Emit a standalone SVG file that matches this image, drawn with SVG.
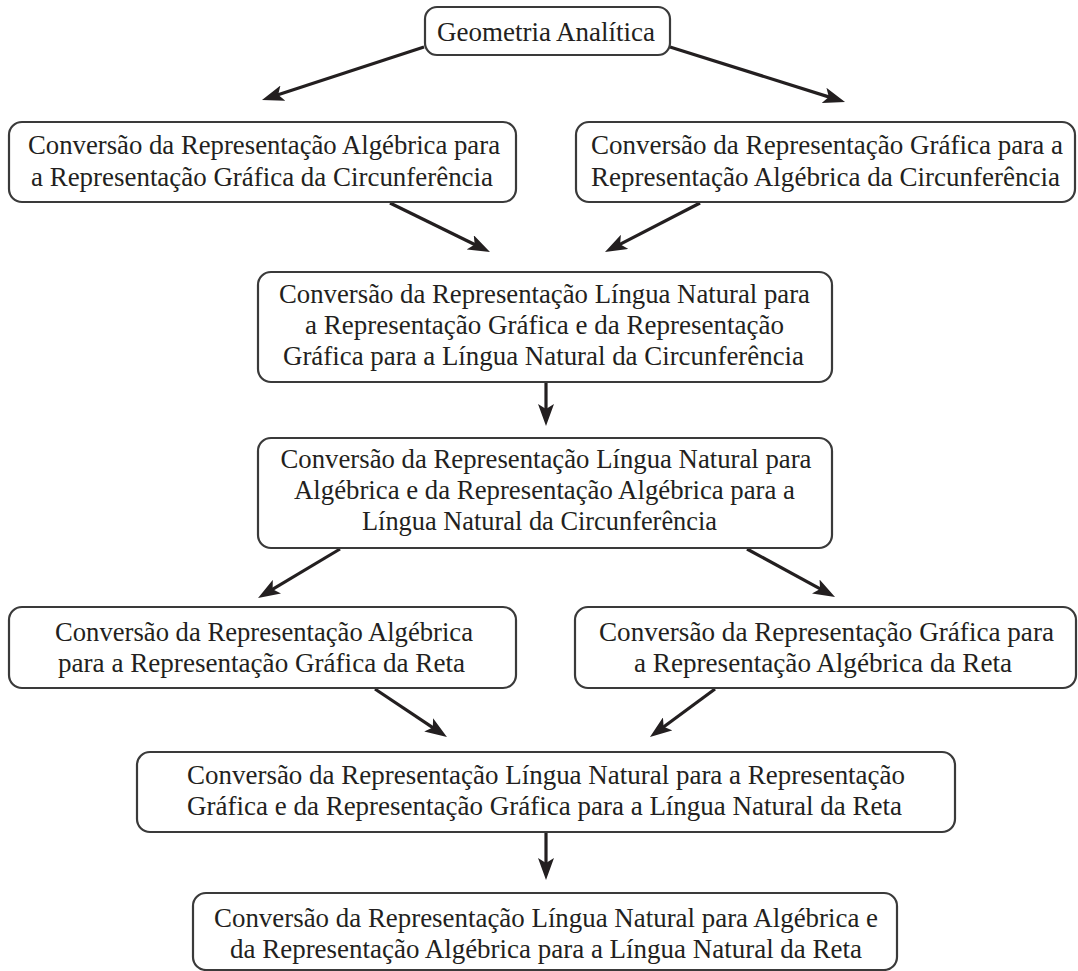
<svg xmlns="http://www.w3.org/2000/svg" width="1078" height="971" viewBox="0 0 1078 971">
<style>
.box{fill:#fff;stroke:#3a3a3a;stroke-width:2.2}
.t{font-family:"Liberation Serif","Times New Roman",serif;font-size:28px;fill:#231f20;text-anchor:middle}
.tc{font-family:"Liberation Serif","Times New Roman",serif;font-size:28px;fill:#231f20;text-anchor:middle}
.c{fill:none;stroke:#231f20;stroke-width:3.2}
</style>
<defs>
<marker id="ah" markerUnits="userSpaceOnUse" markerWidth="22" markerHeight="16" refX="14" refY="8" orient="auto">
<path d="M0,0 L22,8 L0,16 L5,8 z" fill="#231f20"/>
</marker>
</defs>
<rect width="1078" height="971" fill="#fff"/>
<g id="connectors">
<line class="c" x1="424" y1="47" x2="269.6" y2="97.5" marker-end="url(#ah)"/>
<line class="c" x1="670" y1="47" x2="837.4" y2="99.6" marker-end="url(#ah)"/>
<line class="c" x1="390" y1="203" x2="482.8" y2="248.5" marker-end="url(#ah)"/>
<line class="c" x1="700" y1="203" x2="612.1" y2="248.3" marker-end="url(#ah)"/>
<line class="c" x1="546" y1="383" x2="546" y2="418" marker-end="url(#ah)"/>
<line class="c" x1="340" y1="549" x2="264.9" y2="593.9" marker-end="url(#ah)"/>
<line class="c" x1="747" y1="549" x2="828" y2="593.2" marker-end="url(#ah)"/>
<line class="c" x1="375" y1="689" x2="440.3" y2="732.6" marker-end="url(#ah)"/>
<line class="c" x1="715" y1="689" x2="656.4" y2="732.2" marker-end="url(#ah)"/>
<line class="c" x1="546" y1="833" x2="546" y2="872" marker-end="url(#ah)"/>
</g>
<g id="n1">
<rect class="box" x="425" y="7" width="245" height="48" rx="12"/>
<text class="t" x="546" y="41" textLength="218" lengthAdjust="spacingAndGlyphs">Geometria Analítica</text>
</g>
<g id="n2">
<rect class="box" x="9" y="122" width="507" height="80" rx="13"/>
<text class="t" x="264" y="154" textLength="472" lengthAdjust="spacingAndGlyphs">Conversão da Representação Algébrica para</text>
<text class="t" x="262" y="186" textLength="462" lengthAdjust="spacingAndGlyphs">a Representação Gráfica da Circunferência</text>
</g>
<g id="n3">
<rect class="box" x="576" y="122" width="499" height="80" rx="13"/>
<text class="t" x="827" y="154" textLength="472" lengthAdjust="spacingAndGlyphs">Conversão da Representação Gráfica para a</text>
<text class="t" x="825.5" y="186" textLength="469" lengthAdjust="spacingAndGlyphs">Representação Algébrica da Circunferência</text>
</g>
<g id="n4">
<rect class="box" x="258" y="272" width="574" height="110" rx="13"/>
<text class="t" x="544.5" y="303" textLength="531" lengthAdjust="spacingAndGlyphs">Conversão da Representação Língua Natural para</text>
<text class="t" x="544.5" y="334" textLength="479" lengthAdjust="spacingAndGlyphs">a Representação Gráfica e da Representação</text>
<text class="t" x="543.5" y="365" textLength="521" lengthAdjust="spacingAndGlyphs">Gráfica para a Língua Natural da Circunferência</text>
</g>
<g id="n5">
<rect class="box" x="258" y="438" width="574" height="110" rx="13"/>
<text class="t" x="546" y="468" textLength="531" lengthAdjust="spacingAndGlyphs">Conversão da Representação Língua Natural para</text>
<text class="t" x="544.5" y="499" textLength="501" lengthAdjust="spacingAndGlyphs">Algébrica e da Representação Algébrica para a</text>
<text class="t" x="539.5" y="530" textLength="355" lengthAdjust="spacingAndGlyphs">Língua Natural da Circunferência</text>
</g>
<g id="n6">
<rect class="box" x="9" y="607" width="507" height="81" rx="13"/>
<text class="tc" x="264" y="641" textLength="418" lengthAdjust="spacingAndGlyphs">Conversão da Representação Algébrica</text>
<text class="tc" x="261.5" y="672" textLength="407" lengthAdjust="spacingAndGlyphs">para a Representação Gráfica da Reta</text>
</g>
<g id="n7">
<rect class="box" x="575" y="607" width="501" height="81" rx="13"/>
<text class="tc" x="826.5" y="641" textLength="455" lengthAdjust="spacingAndGlyphs">Conversão da Representação Gráfica para</text>
<text class="tc" x="823" y="672" textLength="378" lengthAdjust="spacingAndGlyphs">a Representação Algébrica da Reta</text>
</g>
<g id="n8">
<rect class="box" x="137" y="752" width="818" height="80" rx="13"/>
<text class="tc" x="546" y="784" textLength="718" lengthAdjust="spacingAndGlyphs">Conversão da Representação Língua Natural para a Representação</text>
<text class="tc" x="544.5" y="815" textLength="715" lengthAdjust="spacingAndGlyphs">Gráfica e da Representação Gráfica para a Língua Natural da Reta</text>
</g>
<g id="n9">
<rect class="box" x="193" y="893" width="704" height="77" rx="13"/>
<text class="tc" x="546" y="927" textLength="664" lengthAdjust="spacingAndGlyphs">Conversão da Representação Língua Natural para Algébrica e</text>
<text class="tc" x="546" y="958" textLength="632" lengthAdjust="spacingAndGlyphs">da Representação Algébrica para a Língua Natural da Reta</text>
</g>
</svg>
